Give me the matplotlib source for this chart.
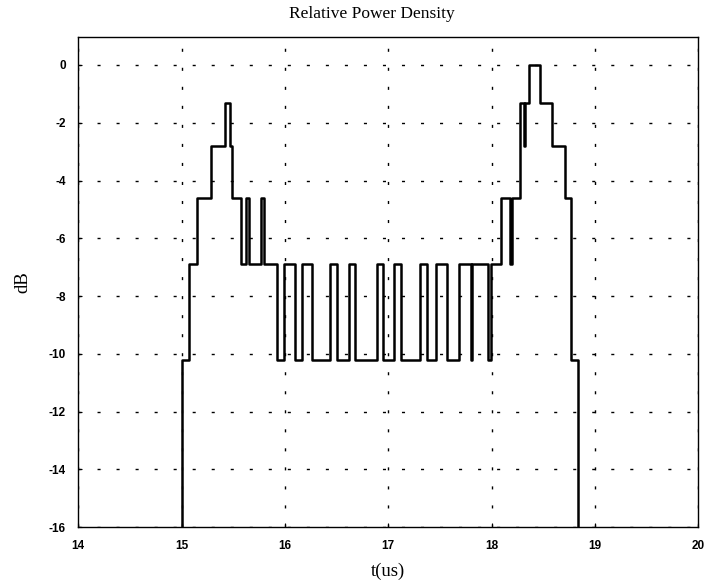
import numpy as np
import matplotlib
matplotlib.use('Agg')
import matplotlib.pyplot as plt

plt.rcParams['axes.unicode_minus'] = False

# step edges (us) and level (dB) held after each edge
t_edges = [15.00, 15.07, 15.15, 15.29, 15.42, 15.47, 15.49, 15.58, 15.62, 15.65,
           15.77, 15.795, 15.92, 15.99, 16.10, 16.17, 16.26, 16.44, 16.50, 16.62,
           16.68, 16.89, 16.95, 17.055, 17.12, 17.305, 17.37, 17.46, 17.565, 17.685,
           17.803, 17.808, 17.965, 17.99, 18.09, 18.175, 18.20, 18.27, 18.31, 18.32,
           18.36, 18.47, 18.58, 18.71, 18.77, 18.835]
db_levels = [-10.2, -6.9, -4.6, -2.8, -1.3, -2.8, -4.6, -6.9, -4.6, -6.9,
             -4.6, -6.9, -10.2, -6.9, -10.2, -6.9, -10.2, -6.9, -10.2, -6.9,
             -10.2, -6.9, -10.2, -6.9, -10.2, -6.9, -10.2, -6.9, -10.2, -6.9,
             -10.2, -6.9, -10.2, -6.9, -4.6, -6.9, -4.6, -1.3, -2.8, -1.3,
             0.0, -1.3, -2.8, -4.6, -10.2, -16.0]

x_ticks = [14, 15, 16, 17, 18, 19, 20]
y_ticks = [0, -2, -4, -6, -8, -10, -12, -14, -16]

fig = plt.figure(figsize=(7.04, 5.87), dpi=100)
ax = fig.add_axes([0.111, 0.102, 0.881, 0.835])

x = [t_edges[0]] + t_edges
y = [-16.0] + db_levels
ax.plot(x, y, drawstyle='steps-post', color='k', lw=1.8)

ax.set_xlim(14, 20)
ax.set_ylim(-16, 0.97)
ax.set_xticks(x_ticks)
ax.set_yticks(y_ticks)
ax.set_xticklabels([str(v) for v in x_ticks])
ax.set_yticklabels([str(v) for v in y_ticks])
ax.grid(True, color='k', linestyle=(0, (2.2, 11.5)), linewidth=1.0)
ax.tick_params(direction='in', length=3, width=0.8, pad=9)
for lab in ax.get_xticklabels() + ax.get_yticklabels():
    lab.set_fontfamily('Liberation Sans')
    lab.set_fontweight('bold')
    lab.set_fontsize(8.5)
for s in ax.spines.values():
    s.set_linewidth(1.0)

ax.set_title('Relative Power Density', fontfamily='Liberation Serif',
             fontsize=12.5, x=0.473, pad=14)
ax.set_xlabel('t(us)', fontfamily='Liberation Serif', fontsize=13.5, labelpad=8)
ax.set_ylabel('dB', fontfamily='Liberation Serif', fontsize=13.5, labelpad=12)

fig.savefig('out.png', dpi=100)
